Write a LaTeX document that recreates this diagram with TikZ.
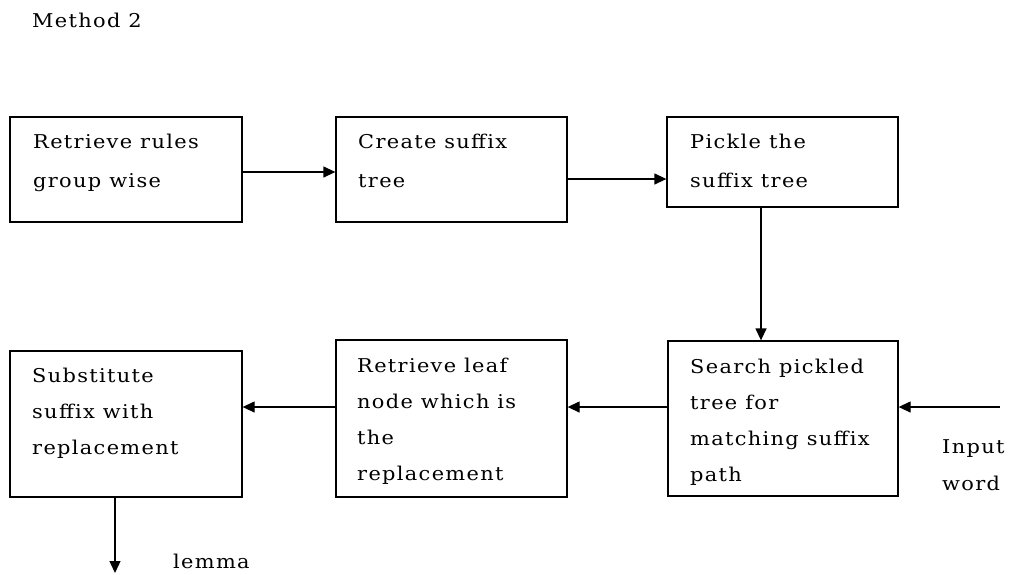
\documentclass[tikz,border=0pt]{standalone}
\usepackage{fontspec}
\setmainfont{DejaVu Serif}[FakeStretch=1.1, LetterSpace=7]
\usetikzlibrary{arrows.meta}
\begin{document}
\begin{tikzpicture}[x=1pt,y=-1pt,
  box/.style={draw, line width=1.3pt, inner sep=0pt, rectangle},
  arr/.style={line width=1.3pt, -{Triangle[length=12pt,width=11pt]}},
  lbl/.style={anchor=base west, inner sep=0pt, font=\fontsize{19}{36}\selectfont},
  lbltop/.style={lbl, font=\fontsize{19}{39}\selectfont}]
\useasboundingbox (0,0) rectangle (1011,574);

% process boxes
\node[box, minimum width=232pt, minimum height=105pt] (b1) at (126,169.5) {};
\node[box, minimum width=231pt, minimum height=105pt] (b2) at (451.5,169.5) {};
\node[box, minimum width=231pt, minimum height=90pt]  (b3) at (782.5,162) {};
\node[box, minimum width=230pt, minimum height=155pt] (b4) at (783,418.5) {};
\node[box, minimum width=231pt, minimum height=157pt] (b5) at (451.5,418.5) {};
\node[box, minimum width=232pt, minimum height=146pt] (b6) at (126,424) {};

% box texts
\node[lbl] (title) at (32,27) {Method 2};
\node[lbltop] (t1) at (33,148) {\parbox[t]{220pt}{Retrieve rules\\group wise}};
\node[lbltop] (t2) at (358,148) {\parbox[t]{220pt}{Create suffix\\tree}};
\node[lbltop] (t3) at (690,148) {\parbox[t]{220pt}{Pickle the\\suffix tree}};
\node[lbl] (t4) at (690,373) {\parbox[t]{220pt}{Search pickled\\tree for\\matching suffix\\path}};
\node[lbl] (t5) at (357,372) {\parbox[t]{220pt}{Retrieve leaf\\node which is\\the\\replacement}};
\node[lbl] (t6) at (32,382) {\parbox[t]{220pt}{Substitute\\suffix with\\replacement}};

% input and output labels
\node[lbl, font=\fontsize{19}{37}\selectfont] (inlbl) at (942,453) {\parbox[t]{70pt}{Input\\word}};
\node[lbl] (outlbl) at (173,568) {lemma};
\coordinate (inp) at (1000,407);
\coordinate (outp) at (115,573);

% connectors
\draw[arr] (b1.east |- 0,172) -- (b2.west |- 0,172);
\draw[arr] (b2.east |- 0,179) -- (b3.west |- 0,179);
\draw[arr] (b3.south -| 761,0) -- (b4.north -| 761,0);
\draw[arr] (inp) -- (b4.east |- inp);
\draw[arr] (b4.west |- 0,407) -- (b5.east |- 0,407);
\draw[arr] (b5.west |- 0,407) -- (b6.east |- 0,407);
\draw[arr] (b6.south -| outp) -- (outp);
\end{tikzpicture}
\end{document}
